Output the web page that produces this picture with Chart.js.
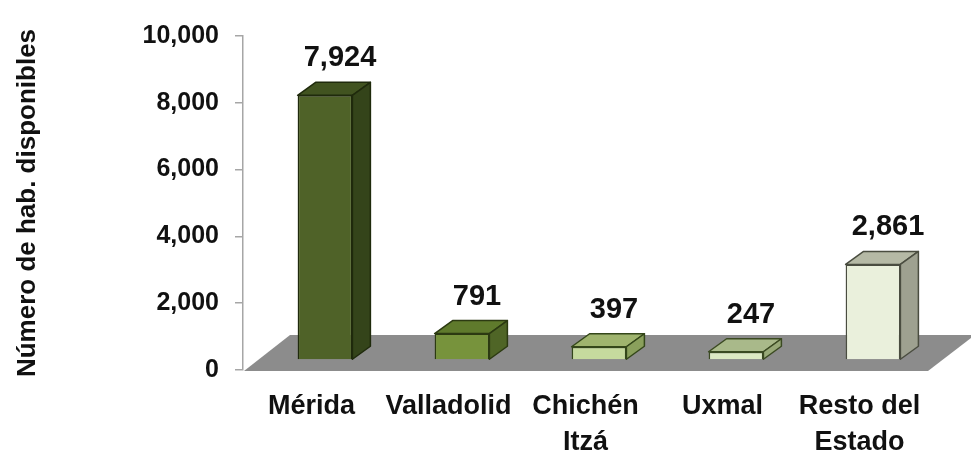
<!DOCTYPE html>
<html>
<head>
<meta charset="utf-8">
<script src="https://cdn.jsdelivr.net/npm/chart.js@4.4.1/dist/chart.umd.min.js"></script>
<style>
  html, body { margin: 0; background: #fff; }
  #wrap { width: 971px; height: 452px; }
</style>
</head>
<body>
<div id="wrap"><canvas id="chart"></canvas></div>
<script>
const categories = ["Mérida", "Valladolid", ["Chichén", "Itzá"], "Uxmal", ["Resto del", "Estado"]];
const values = [7924, 791, 397, 247, 2861];
const valueLabels = ["7,924", "791", "397", "247", "2,861"];
const yTicks = [0, 2000, 4000, 6000, 8000, 10000];

const frontColours = ["#4f6228", "#77933c", "#c6da9e", "#dde9c4", "#eaf0dc"];
const topColours = ["#415320", "#5f7a2c", "#9fb46e", "#a9b98a", "#b5b9a5"];
const sideColours = ["#34441a", "#4f6526", "#8aa05c", "#98a978", "#9ea190"];
const edgeColours = ["#1f2a0c", "#2c3a12", "#34471a", "#3b4a22", "#4a4d40"];

// bar depth and how far the bars sit back on the floor
const DEPTH_X = 18, DEPTH_Y = -13;
const SHIFT_X = 13.5, SHIFT_Y = -10;
const FLOOR_X = 47, FLOOR_Y = -35;

const bars3d = {
  id: "bars3d",
  beforeDatasetsDraw(chart) {
    const { ctx, chartArea: a } = chart;
    const y0 = chart.scales.y.getPixelForValue(0);
    ctx.save();
    ctx.fillStyle = "#8c8c8c";
    ctx.beginPath();
    ctx.moveTo(a.left + 1, y0 + 1);
    ctx.lineTo(a.right, y0 + 1);
    ctx.lineTo(a.right + FLOOR_X, y0 + FLOOR_Y);
    ctx.lineTo(a.left + FLOOR_X, y0 + FLOOR_Y);
    ctx.closePath();
    ctx.fill();
    ctx.translate(SHIFT_X, SHIFT_Y);
  },
  afterDatasetsDraw(chart) {
    const ctx = chart.ctx;
    ctx.lineWidth = 1.5;
    ctx.lineJoin = "round";
    chart.getDatasetMeta(0).data.forEach((bar, i) => {
      const l = bar.x - bar.width / 2, r = bar.x + bar.width / 2;
      const t = bar.y, b = bar.base;
      ctx.strokeStyle = edgeColours[i];

      ctx.beginPath();
      ctx.moveTo(l, t);
      ctx.lineTo(l + DEPTH_X, t + DEPTH_Y);
      ctx.lineTo(r + DEPTH_X, t + DEPTH_Y);
      ctx.lineTo(r, t);
      ctx.closePath();
      ctx.fillStyle = topColours[i];
      ctx.fill();
      ctx.stroke();

      ctx.beginPath();
      ctx.moveTo(r, t);
      ctx.lineTo(r + DEPTH_X, t + DEPTH_Y);
      ctx.lineTo(r + DEPTH_X, b + DEPTH_Y);
      ctx.lineTo(r, b);
      ctx.closePath();
      ctx.fillStyle = sideColours[i];
      ctx.fill();
      ctx.stroke();

      ctx.fillStyle = "#111";
      ctx.font = "bold 29px 'Liberation Sans', Arial, sans-serif";
      ctx.textAlign = "center";
      ctx.textBaseline = "alphabetic";
      ctx.fillText(valueLabels[i], bar.x + 15, t - 29);
    });
    ctx.restore();
  }
};

new Chart(document.getElementById("chart"), {
  type: "bar",
  data: {
    labels: categories,
    datasets: [{
      data: values,
      backgroundColor: frontColours,
      borderColor: edgeColours,
      borderWidth: 1.5,
      categoryPercentage: 1,
      barPercentage: 0.4
    }]
  },
  options: {
    responsive: true,
    maintainAspectRatio: false,
    animation: false,
    layout: { padding: { top: 36, right: 43, left: 0, bottom: 0 } },
    plugins: { legend: { display: false }, tooltip: { enabled: false } },
    scales: {
      x: {
        grid: { display: false, drawTicks: false },
        border: { display: false },
        ticks: {
          color: "#111",
          padding: 19,
          maxRotation: 0,
          autoSkip: false,
          font: { family: "'Liberation Sans', Arial, sans-serif", size: 27, weight: "bold", lineHeight: 1.33 }
        },
        afterFit(scale) { scale.height = 82; }
      },
      y: {
        min: 0,
        max: 10000,
        afterBuildTicks(scale) { scale.ticks = yTicks.map(v => ({ value: v })); },
        grid: { drawOnChartArea: false, drawTicks: true, tickLength: 8, color: "#a6a6a6", lineWidth: 1.5 },
        border: { display: true, color: "#a6a6a6", width: 1.5 },
        ticks: {
          color: "#111",
          padding: 16,
          font: { family: "'Liberation Sans', Arial, sans-serif", size: 25, weight: "bold" },
          callback: v => v.toLocaleString("en-US")
        },
        title: {
          display: true,
          text: "Número de hab. disponibles",
          color: "#111",
          padding: { top: 12, bottom: 0 },
          font: { family: "'Liberation Sans', Arial, sans-serif", size: 26, weight: "bold" }
        },
        afterFit(scale) { scale.width = 243; }
      }
    }
  },
  plugins: [bars3d]
});
</script>
</body>
</html>
